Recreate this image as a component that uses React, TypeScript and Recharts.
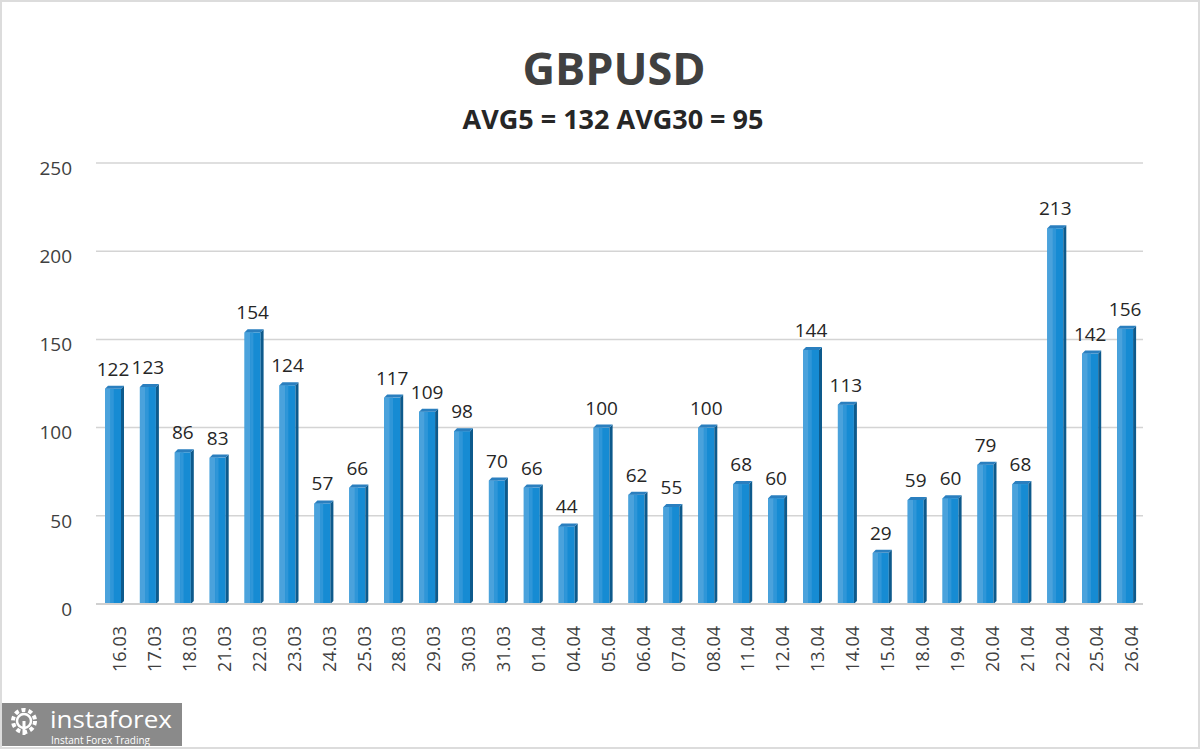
import React from 'react';
import { BarChart, Bar, XAxis, YAxis, CartesianGrid, LabelList } from 'recharts';

const dates = ['16.03','17.03','18.03','21.03','22.03','23.03','24.03','25.03','28.03','29.03','30.03','31.03','01.04','04.04','05.04','06.04','07.04','08.04','11.04','12.04','13.04','14.04','15.04','18.04','19.04','20.04','21.04','22.04','25.04','26.04'];
const values = [122,123,86,83,154,124,57,66,117,109,98,70,66,44,100,62,55,100,68,60,144,113,29,59,60,79,68,213,142,156];
const yTicks = [0, 50, 100, 150, 200, 250];
const title = 'GBPUSD';
const subtitle = 'AVG5 = 132 AVG30 = 95';

const data = dates.map((d, i) => ({ date: d, value: values[i] }));

const FONT = '"Open Sans", "Noto Sans", sans-serif';

const Bar3D = (props: any) => {
  const { x, y, width, height } = props;
  if (!height || height <= 0) return null;
  const d = 3;
  const w1 = width * 0.35;
  return (
    <g>
      <rect x={x} y={y} width={width} height={height} fill="#168bd3" />
      <rect x={x} y={y} width={w1} height={height} fill="#4aa2dc" />
      <rect x={x + w1} y={y} width={width * 0.2} height={height} fill="#2f96d8" />
      <polygon points={`${x + width},${y} ${x + width + d},${y - d} ${x + width + d},${y + height - d} ${x + width},${y + height}`} fill="#0d5a8c" />
      <polygon points={`${x},${y} ${x + d},${y - d} ${x + width + d},${y - d} ${x + width},${y}`} fill="#2a7fbf" />
    </g>
  );
};

export default function App() {
  return (
    <div style={{ position: 'absolute', left: 0, top: 0, width: 1200, height: 749, background: '#fff', boxSizing: 'border-box', border: '2px solid #dcdcdc', overflow: 'hidden' }}>
      <div style={{ position: 'absolute', left: -2, top: -2 }}>
        <BarChart width={1200} height={749} data={data} margin={{ top: 163, right: 57, bottom: 65, left: 36 }} barSize={16}>
          <CartesianGrid vertical={false} stroke="#d4d4d4" strokeWidth={1.5} />
          <XAxis
            dataKey="date"
            interval={0}
            axisLine={{ stroke: '#d0d0d0', strokeWidth: 2 }}
            tickLine={false}
            height={80}
            angle={-90}
            textAnchor="end"
            tickMargin={16}
            tick={{ fill: '#404040', fontSize: 18, fontFamily: FONT }}
          />
          <YAxis
            domain={[0, 250]}
            ticks={yTicks}
            axisLine={false}
            tickLine={false}
            tickSize={0}
            tickMargin={24}
            width={60}
            tick={{ fill: '#404040', fontSize: 19, fontFamily: FONT, dy: 5 }}
          />
          <Bar dataKey="value" isAnimationActive={false} shape={<Bar3D />}>
            <LabelList dataKey="value" position="top" offset={13} style={{ fill: '#262626', fontSize: 19, fontFamily: FONT }} />
          </Bar>
        </BarChart>
      </div>
      <div style={{ position: 'absolute', left: 0, width: 1224, top: 36, textAlign: 'center', fontFamily: FONT, fontWeight: 700, fontSize: 45, color: '#404040', lineHeight: '60px' }}>{title}</div>
      <div style={{ position: 'absolute', left: 0, width: 1222, top: 99, textAlign: 'center', fontFamily: FONT, fontWeight: 700, fontSize: 27, color: '#262626', lineHeight: '36px' }}>{subtitle}</div>
      <div style={{ position: 'absolute', left: 0, top: 701, width: 180, height: 43, background: '#8a8a8a' }}>
        <svg width={180} height={43} style={{ position: 'absolute', left: 0, top: 0 }}>
          <circle cx={22} cy={18} r={11} fill="none" stroke="#fff" strokeWidth={4} strokeDasharray="4 3" />
          <circle cx={22} cy={18} r={7} fill="none" stroke="#fff" strokeWidth={2.5} />
          <rect x={20.5} y={18} width={3} height={14} fill="#fff" />
          <text x={48} y={25} fill="#fff" fontFamily={FONT} fontSize={23} textLength={122} lengthAdjust="spacingAndGlyphs">instaforex</text>
          <text x={49} y={41} fill="#fff" fontFamily={FONT} fontSize={10} textLength={99} lengthAdjust="spacingAndGlyphs">Instant Forex Trading</text>
        </svg>
      </div>
    </div>
  );
}
